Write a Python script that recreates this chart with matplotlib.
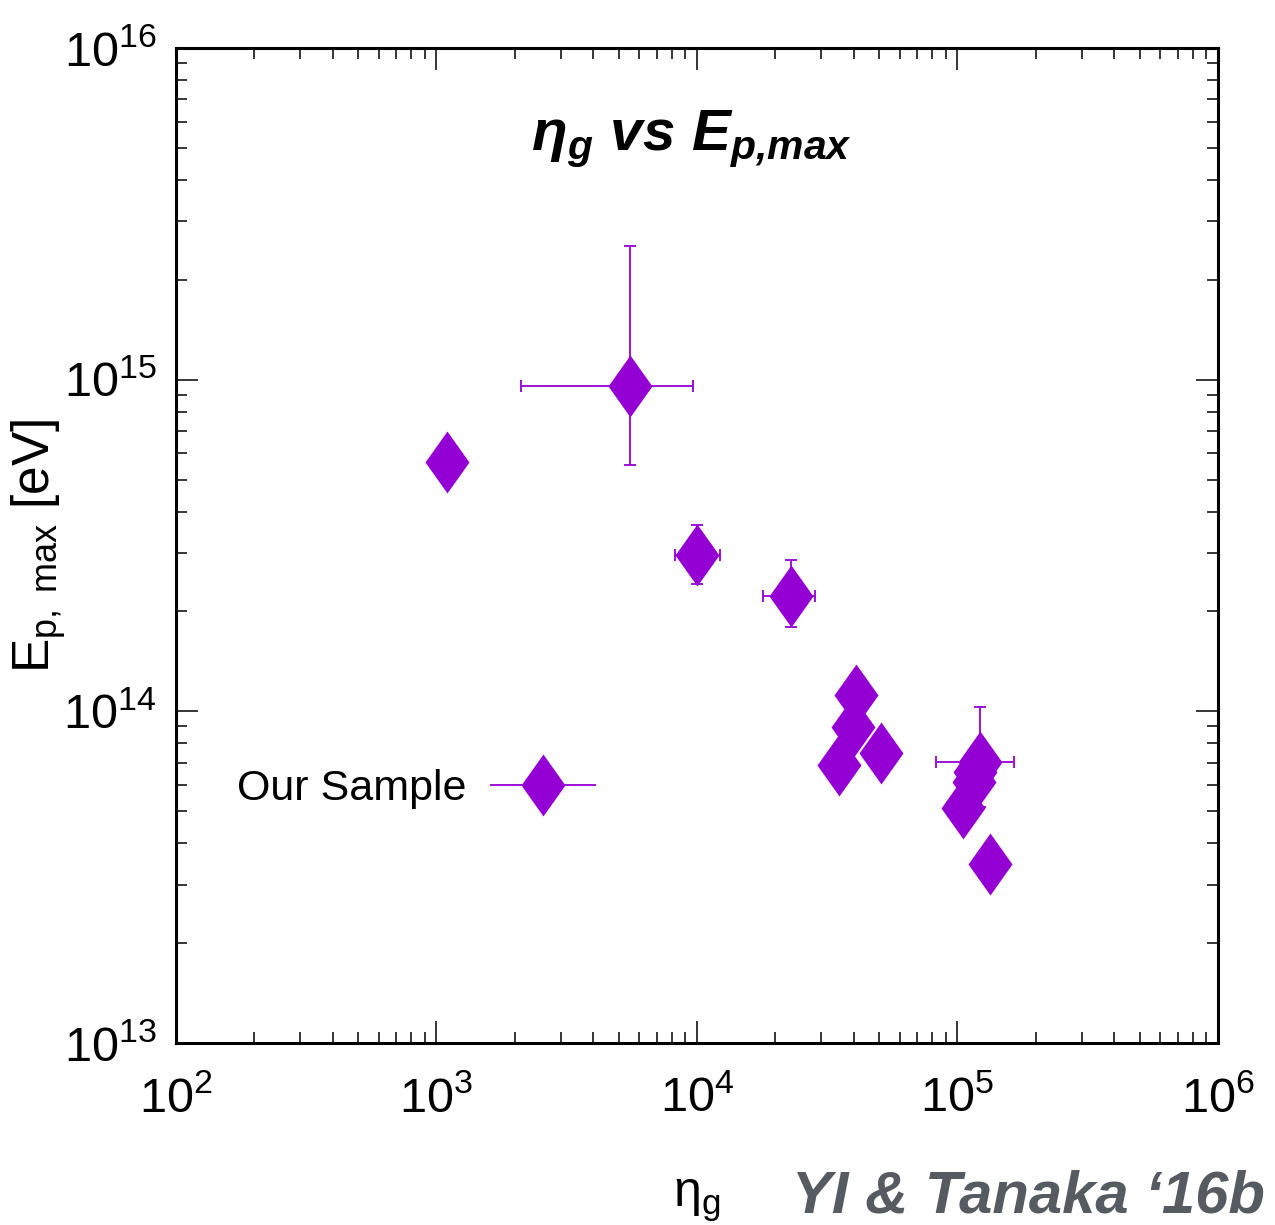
import matplotlib
matplotlib.use('Agg')
import matplotlib.pyplot as plt
import numpy as np
from matplotlib import font_manager
from matplotlib.legend_handler import HandlerErrorbar
from matplotlib.container import ErrorbarContainer
from matplotlib.ticker import LogLocator, NullFormatter

# ---------------- data ----------------
eta_g = [1.10e3, 5.53e3, 1.00e4, 2.29e4, 3.50e4, 3.96e4, 4.09e4, 5.10e4,
         1.050e5, 1.157e5, 1.168e5, 1.22e5, 1.336e5]
ep_max = [5.65e14, 9.6e14, 2.96e14, 2.23e14, 6.89e13, 8.96e13, 1.12e14, 7.48e13,
          5.12e13, 6.13e13, 6.57e13, 7.04e13, 3.46e13]

# points with error bars: centre, lower and upper bounds
err_eta = [5.53e3, 1.00e4, 2.29e4, 1.22e5]
err_eta_lo = [2.11e3, 8.23e3, 1.786e4, 8.24e4]
err_eta_hi = [9.66e3, 1.224e4, 2.84e4, 1.65e5]
err_ep = [9.6e14, 2.96e14, 2.23e14, 7.04e13]
err_ep_lo = [5.53e14, 2.42e14, 1.79e14, 5.15e13]
err_ep_hi = [2.53e15, 3.65e14, 2.86e14, 1.033e14]

legend_label = 'Our Sample'
title_text = r'$\mathbf{\eta_g}$ vs $\mathbf{E_{p{,}max}}$'
xlabel_text = r'$\mathrm{\eta_g}$'
ylabel_text = r'E$_{\mathsf{p,\ max}}$ [eV]'
credit_text = 'YI & Tanaka \u201816b'

# ---------------- fonts ----------------
names = {f.name for f in font_manager.fontManager.ttflist}
NARROW = 'Liberation Sans Narrow' if 'Liberation Sans Narrow' in names else 'Liberation Sans'
plt.rcParams['font.family'] = [NARROW, 'DejaVu Sans']
plt.rcParams['mathtext.fontset'] = 'custom'
plt.rcParams['mathtext.rm'] = NARROW
plt.rcParams['mathtext.it'] = NARROW + ':italic'
plt.rcParams['mathtext.sf'] = 'Liberation Sans'
plt.rcParams['mathtext.bf'] = 'Liberation Sans:bold:italic'

PURPLE = '#9400D3'
diamond = [(0, 1), (0.71, 0), (0, -1), (-0.71, 0), (0, 1)]

fig = plt.figure(figsize=(12.75, 12.25), dpi=100)
ax = fig.add_axes([0.138, 0.1486, 0.8173, 0.8122])
ax.set_xscale('log')
ax.set_yscale('log')
ax.set_xlim(1e2, 1e6)
ax.set_ylim(1e13, 1e16)

x = np.array(err_eta)
y = np.array(err_ep)
xerr = [x - np.array(err_eta_lo), np.array(err_eta_hi) - x]
yerr = [y - np.array(err_ep_lo), np.array(err_ep_hi) - y]
ax.errorbar(x, y, xerr=xerr, yerr=yerr, fmt='none', ecolor=PURPLE,
            elinewidth=1.3, capsize=4, capthick=1.3, zorder=2)

ax.plot(eta_g, ep_max, ls='none', marker=diamond, ms=44.6, color=PURPLE,
        mec=PURPLE, mew=0, zorder=3)

# legend proxy (not drawn: NaN position)
proxy = ax.errorbar([np.nan], [np.nan], xerr=[[1.0], [1.0]],
                    marker=diamond, ms=44.6, color=PURPLE, mew=0,
                    linestyle='none', ecolor=PURPLE, elinewidth=1.3,
                    capsize=4, capthick=1.3)
LEG_FS = 31
leg = ax.legend([proxy], [legend_label], loc='center right',
                bbox_to_anchor=(0.403, 0.255), frameon=False,
                markerfirst=False, fontsize=LEG_FS, handlelength=2.45,
                handletextpad=0.55, borderpad=0, borderaxespad=0,
                handler_map={ErrorbarContainer: HandlerErrorbar(xerr_size=1.23)})

# title inside the axes
ax.text(0.495, 0.8975, title_text, transform=ax.transAxes, ha='center',
        va='baseline', fontsize=42, fontweight='bold', style='italic',
        family='Liberation Sans')

ax.set_xlabel(xlabel_text, fontsize=36, labelpad=40)
ax.set_ylabel(ylabel_text, fontsize=37, family='Liberation Sans')
ax.yaxis.set_label_coords(-0.104, 0.5)

for s in ax.spines.values():
    s.set_linewidth(2.2)
ax.tick_params(which='both', direction='in', top=True, right=True)
ax.tick_params(which='major', length=16, width=1.1, labelsize=35, pad=14)
ax.tick_params(which='minor', length=8, width=1.1)
ax.tick_params(axis='x', which='major', pad=24)
ax.xaxis.set_major_locator(LogLocator(base=10, numticks=10))
ax.yaxis.set_major_locator(LogLocator(base=10, numticks=10))
ax.xaxis.set_minor_locator(LogLocator(base=10, subs=np.arange(2, 10), numticks=20))
ax.yaxis.set_minor_locator(LogLocator(base=10, subs=np.arange(2, 10), numticks=20))
ax.xaxis.set_minor_formatter(NullFormatter())
ax.yaxis.set_minor_formatter(NullFormatter())

fig.text(0.992, 0.0106, credit_text, ha='right', va='baseline', fontsize=43,
         fontweight='bold', style='italic', color='#565b61',
         family='Liberation Sans')

fig.savefig('out.png', dpi=100)
